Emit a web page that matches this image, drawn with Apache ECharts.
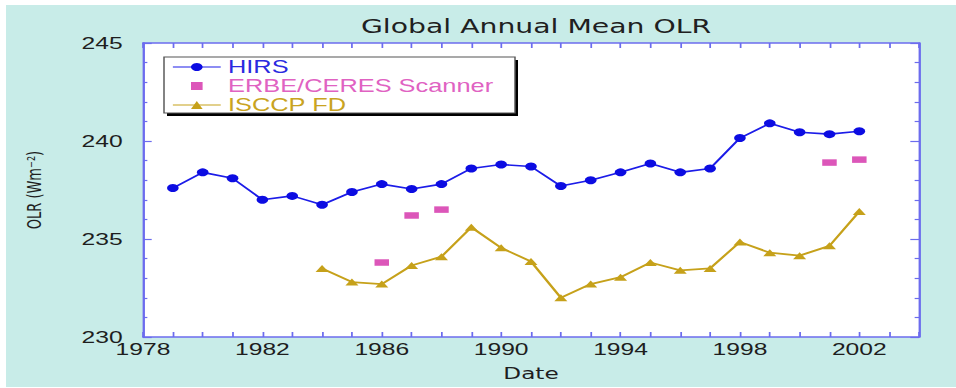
<!DOCTYPE html>
<html>
<head>
<meta charset="utf-8">
<title>Global Annual Mean OLR</title>
<script src="https://cdn.jsdelivr.net/npm/echarts@6/dist/echarts.min.js"></script>
<style>
  html, body { margin: 0; padding: 0; background: #ffffff; width: 956px; height: 388px; overflow: hidden; }
  /* The figure is drawn in a narrower frame and widened horizontally. */
  #chart {
    position: absolute; left: 6px; top: 5px;
    width: 655px; height: 382px;
    background: #c8ece8;
    transform: scaleX(1.4504); transform-origin: 0 0;
  }
</style>
</head>
<body>
<div id="chart"></div>
<script>
// ---- data ----
const hirsYears = [1979, 1980, 1981, 1982, 1983, 1984, 1985, 1986, 1987, 1988, 1989, 1990,
                   1991, 1992, 1993, 1994, 1995, 1996, 1997, 1998, 1999, 2000, 2001, 2002];
const hirsOLR   = [237.6, 238.4, 238.1, 237.0, 237.2, 236.75, 237.4, 237.8, 237.55, 237.8, 238.6, 238.8,
                   238.7, 237.7, 238.0, 238.4, 238.85, 238.4, 238.6, 240.15, 240.9, 240.45, 240.35, 240.5];

const erbeYears = [1986, 1987, 1988, 2001, 2002];
const erbeOLR   = [233.8, 236.2, 236.5, 238.9, 239.05];

const isccpYears = [1984, 1985, 1986, 1987, 1988, 1989, 1990, 1991, 1992, 1993,
                    1994, 1995, 1996, 1997, 1998, 1999, 2000, 2001, 2002];
const isccpOLR   = [233.5, 232.8, 232.7, 233.65, 234.1, 235.6, 234.55, 233.85, 232.0, 232.7,
                    233.05, 233.8, 233.4, 233.5, 234.85, 234.3, 234.15, 234.65, 236.4];

const seriesNames = ['HIRS', 'ERBE/CERES Scanner', 'ISCCP FD'];
const xRange = [1978, 2004];
const yRange = [230, 245];
const yearLabelStep = 4;

// ---- styling ----
const SX = 950 / 655;                 // horizontal widening of the frame
const px = X => (X - 6) / SX;         // page x -> frame x
const AX = '#6c6cee';
const NUM_FONT = 'Liberation Sans';
const TXT_FONT = 'DejaVu Sans';
const C_HIRS = '#0c0ce2';
const C_ERBE = '#dc56b9';
const C_ISCCP = '#c6a11a';

const pairs = (xs, ys) => xs.map((x, i) => [x, ys[i]]);

function xAxisDef(position, withLabels) {
  return {
    type: 'value', position, min: xRange[0], max: xRange[1], interval: 1,
    axisLine: { show: true, onZero: false, lineStyle: { color: AX, width: 1.6 } },
    axisTick: { show: true, inside: true, length: 5, lineStyle: { color: AX, width: 1.2 } },
    axisLabel: {
      show: withLabels, margin: 3, color: '#1e1e1e', fontFamily: NUM_FONT, fontSize: 17,
      formatter: v => ((v - xRange[0]) % yearLabelStep === 0 ? String(v) : '')
    },
    splitLine: { show: false },
    name: withLabels ? 'Date' : '', nameLocation: 'middle', nameGap: 29,
    nameTextStyle: { fontFamily: TXT_FONT, fontSize: 16, color: '#1e1e1e' }
  };
}

function yAxisDef(position, withLabels) {
  return {
    type: 'value', position, min: yRange[0], max: yRange[1], interval: 5,
    axisLine: { show: true, onZero: false, lineStyle: { color: AX, width: 1.6 } },
    axisTick: { show: true, inside: true, length: 6, lineStyle: { color: AX, width: 1.2 } },
    minorTick: { show: true, splitNumber: 5, length: 3, lineStyle: { color: AX, width: 1.2 } },
    axisLabel: { show: withLabels, margin: 14, color: '#1e1e1e', fontFamily: NUM_FONT, fontSize: 17 },
    splitLine: { show: false }, minorSplitLine: { show: false },
    name: withLabels ? 'OLR (Wm⁻²)' : '', nameLocation: 'middle', nameGap: 68,
    nameTextStyle: { fontFamily: TXT_FONT, fontSize: 13, color: '#1e1e1e' }
  };
}

const chart = echarts.init(document.getElementById('chart'), null, { renderer: 'svg' });

chart.setOption({
  animation: false,
  backgroundColor: 'transparent',
  title: {
    text: 'Global Annual Mean OLR', left: px(536), top: 11, padding: 0, textAlign: 'center',
    textStyle: { fontFamily: TXT_FONT, fontSize: 19.5, fontWeight: 'normal', color: '#202020' }
  },
  grid: {
    left: px(143), top: 38, width: 776 / SX, height: 299,
    show: true, backgroundColor: '#ffffff', borderWidth: 0
  },
  xAxis: [xAxisDef('bottom', true), xAxisDef('top', false)],
  yAxis: [yAxisDef('left', true), yAxisDef('right', false)],
  graphic: [
    { type: 'rect', z: 3, silent: true,
      shape: { x: px(167), y: 55, width: px(518) - px(167), height: 56 },
      style: { fill: '#000000' } },
    { type: 'rect', z: 3, silent: true,
      shape: { x: px(164), y: 52, width: px(515) - px(164), height: 56 },
      style: { fill: '#ffffff', stroke: '#555555', lineWidth: 1 } }
  ],
  legend: {
    orient: 'vertical', left: px(172), top: 53, padding: 0, itemGap: 1,
    itemWidth: 33, itemHeight: 10, selectedMode: false, z: 5,
    textStyle: { fontFamily: NUM_FONT, fontSize: 17.5, lineHeight: 16 },
    data: [
      { name: seriesNames[0], textStyle: { color: '#2a2ae0' }, lineStyle: { width: 1.2 } },
      { name: seriesNames[1], textStyle: { color: '#e062c2' } },
      { name: seriesNames[2], textStyle: { color: '#c9a321' }, lineStyle: { width: 1.2 } }
    ]
  },
  series: [
    {
      name: seriesNames[0], type: 'line', silent: true, z: 2,
      data: pairs(hirsYears, hirsOLR),
      symbol: 'circle', symbolSize: 8, showSymbol: true,
      itemStyle: { color: C_HIRS },
      lineStyle: { color: '#1c1ce8', width: 1.6 }
    },
    {
      name: seriesNames[1], type: 'line', silent: true, z: 2,
      data: pairs(erbeYears, erbeOLR),
      symbol: 'rect', symbolSize: [10, 6.5], showSymbol: true,
      itemStyle: { color: C_ERBE },
      lineStyle: { width: 0, opacity: 0 }
    },
    {
      name: seriesNames[2], type: 'line', silent: true, z: 2,
      data: pairs(isccpYears, isccpOLR),
      symbol: 'triangle', symbolSize: [9, 7], showSymbol: true,
      itemStyle: { color: C_ISCCP },
      lineStyle: { color: C_ISCCP, width: 1.8 }
    }
  ]
});
</script>
</body>
</html>
